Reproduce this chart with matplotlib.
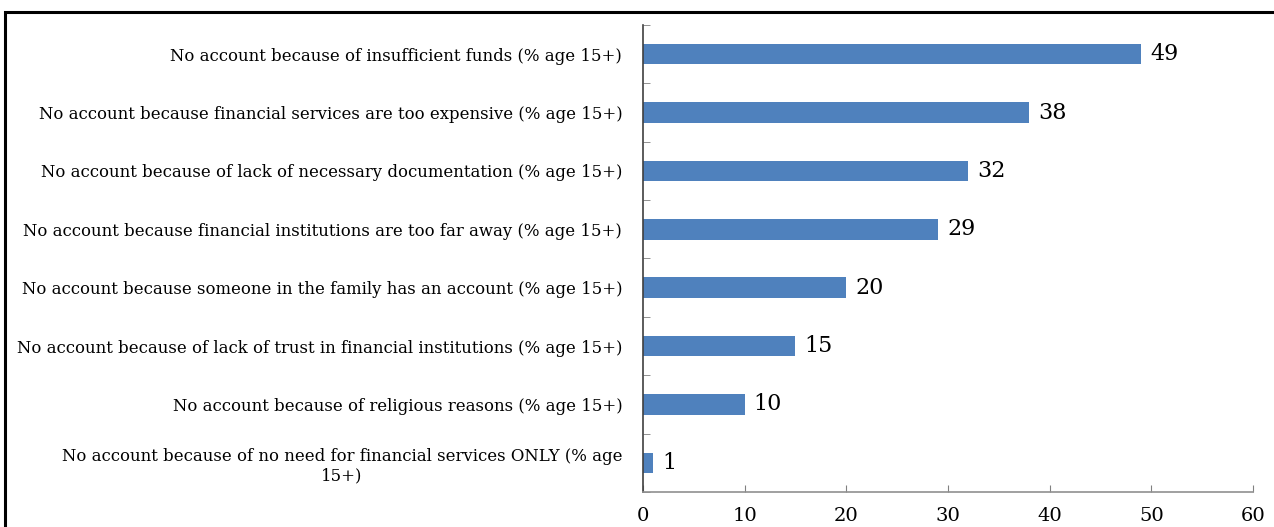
import matplotlib
matplotlib.use("Agg")
import matplotlib.pyplot as plt
from matplotlib.patches import Rectangle
from matplotlib.ticker import FixedLocator

categories = [
    "No account because of insufficient funds (% age 15+)",
    "No account because financial services are too expensive (% age 15+)",
    "No account because of lack of necessary documentation (% age 15+)",
    "No account because financial institutions are too far away (% age 15+)",
    "No account because someone in the family has an account (% age 15+)",
    "No account because of lack of trust in financial institutions (% age 15+)",
    "No account because of religious reasons (% age 15+)",
    "No account because of no need for financial services ONLY (% age\n15+)",
]
values = [49, 38, 32, 29, 20, 15, 10, 1]
x_ticks = [0, 10, 20, 30, 40, 50, 60]

bar_color = "#4F81BD"
serif = ["DejaVu Serif"]

fig = plt.figure(figsize=(12.74, 5.27), dpi=100)
ax = fig.add_axes([0.5047, 0.0664, 0.4788, 0.8862])

pos = list(range(len(categories)))
ax.barh(pos, values, height=0.35, color=bar_color)
ax.set_ylim(len(categories) - 0.5, -0.5)
ax.set_xlim(0, 60)

for p, v in zip(pos, values):
    ax.text(v + 0.9, p, f"{v}", va="center", ha="left",
            fontsize=16, family=serif, color="black")

ax.set_yticks(pos)
ax.set_yticklabels(categories, family=serif, fontsize=11.9, ha="right",
                   multialignment="center")
ax.yaxis.set_minor_locator(FixedLocator([p - 0.5 for p in range(len(categories) + 1)]))
ax.tick_params(axis="y", which="major", length=0, pad=15)
ax.tick_params(axis="y", which="minor", length=5, direction="in", color="#808080")

ax.set_xticks(x_ticks)
ax.set_xticklabels([str(t) for t in x_ticks], family=serif, fontsize=14)
ax.tick_params(axis="x", direction="in", length=5, color="#808080", pad=11)

for side in ("top", "right"):
    ax.spines[side].set_visible(False)
ax.spines["left"].set_color("#404040")
ax.spines["bottom"].set_color("#909090")
ax.spines["left"].set_linewidth(1.2)
ax.spines["bottom"].set_linewidth(1.2)

# outer frame
frame = Rectangle((5 / 1274, -0.2), 1.2, 1 - 12 / 527 + 0.2,
                  transform=fig.transFigure, fill=False,
                  edgecolor="black", linewidth=2.2, clip_on=False)
fig.patches.append(frame)

fig.savefig("out.png", dpi=100)
